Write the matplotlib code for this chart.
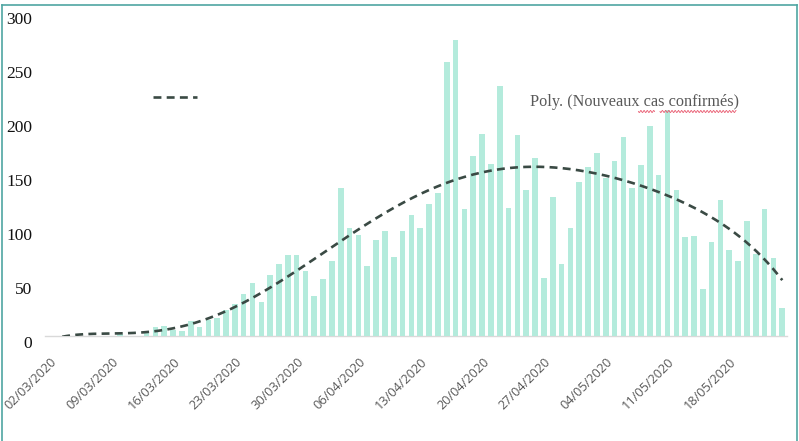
import datetime as dt
import numpy as np
import matplotlib
matplotlib.use("Agg")
import matplotlib.pyplot as plt
from matplotlib.lines import Line2D
from matplotlib.transforms import ScaledTranslation

# Daily new confirmed cases, starting 02/03/2020
start_date = dt.date(2020, 3, 2)
new_cases = [
    0, 0, 0, 0, 0, 0, 0, 0, 2, 0, 0,
    5, 8, 9, 6, 5, 14, 8, 15, 17, 24, 30, 39, 49, 32, 57, 67, 75, 75, 60,
    37, 53, 70, 137, 100, 94, 65, 89, 97, 73, 97, 112, 100, 122, 133, 254,
    275, 118, 167, 187, 160, 232, 119, 186, 135, 165, 54, 129, 67, 100, 143,
    157, 170, 147, 162, 185, 137, 159, 195, 149, 210, 135, 92, 93, 44, 87,
    126, 80, 70, 107, 76, 118, 72, 26,
]
dates = [start_date + dt.timedelta(days=k) for k in range(len(new_cases))]
date_labels = [d.strftime("%d/%m/%Y") for d in dates]
y_ticks = [0, 50, 100, 150, 200, 250, 300]
trend_label = "Poly. (Nouveaux cas confirmés)"
trend_degree = 6

W, H, DPI = 799, 441, 100
fig = plt.figure(figsize=(W / DPI, H / DPI), dpi=DPI)
fig.patch.set_facecolor("white")

# plot area in pixels (left, right, bottom-from-top, top-from-top)
L, R, B, T = 45, 786.7, 336, 12.6
ax = fig.add_axes([L / W, 1 - B / H, (R - L) / W, (B - T) / H])

x = np.arange(len(new_cases))
vals = np.array(new_cases, dtype=float)

ax.bar(x, vals, width=0.64, color="#b4ebdc", zorder=2)

# polynomial trend line (x counted from 1, as in a spreadsheet)
xf = x + 1.0
coef = np.polyfit(xf, vals, trend_degree)
xs = np.linspace(xf[0], xf[-1], 400)
ax.plot(xs - 1.0, np.polyval(coef, xs), color="#3a4a44", lw=1.9,
        linestyle=(0, (3.0, 2.0)), zorder=3, dash_capstyle="butt")

ax.set_xlim(-0.5, len(new_cases) - 0.5)
ax.set_ylim(0, 300)

for s in ["top", "right", "left"]:
    ax.spines[s].set_visible(False)
ax.spines["bottom"].set_color("#d9d9d9")
ax.spines["bottom"].set_linewidth(1.0)
ax.spines["bottom"].set_zorder(1)

ax.set_yticks(y_ticks)
ax.set_yticklabels([str(v) for v in y_ticks], family="Liberation Serif",
                   fontsize=12.5, color="#111111")
ax.tick_params(axis="y", length=0, pad=9)

tick_pos = x[::7]
ax.set_xticks(tick_pos)
ax.set_xticklabels([date_labels[k] for k in tick_pos], rotation=45,
                   ha="right", va="center", rotation_mode="anchor",
                   family="Open Sans", fontsize=9.2, color="#595959")
ax.tick_params(axis="x", length=0, pad=17)

y_shift = ScaledTranslation(0, -5.7 / DPI, fig.dpi_scale_trans)
for lab in ax.get_yticklabels():
    lab.set_transform(lab.get_transform() + y_shift)
x_shift = ScaledTranslation(5.0 / DPI, 0, fig.dpi_scale_trans)
for lab in ax.get_xticklabels():
    lab.set_transform(lab.get_transform() + x_shift)

# legend: dashed sample on the left, label on the right
fig.add_artist(Line2D([153 / W, 197 / W], [1 - 97 / H, 1 - 97 / H],
                      transform=fig.transFigure, color="#3a4a44", lw=1.9,
                      linestyle=(0, (3.0, 2.0)), dash_capstyle="butt"))
fig.text(530 / W, 1 - 102 / H, trend_label, family="Liberation Serif",
         fontsize=11.7, color="#595959", ha="left", va="center")

# spell-check style wavy underline under "cas confirmés"
for x0, x1 in [(638.5, 654.5), (660, 736)]:
    px = np.linspace(x0, x1, int((x1 - x0) * 3))
    py = 111.5 + 1.0 * np.sin((px - x0) / 3.2 * 2 * np.pi)
    fig.add_artist(Line2D(px / W, 1 - py / H, transform=fig.transFigure,
                          color="#e8556b", lw=0.6))

# thin teal frame around the chart
frame_c = "#4fa6a2"
fig.add_artist(Line2D([2 / W, 2 / W], [0, 1 - 5 / H], transform=fig.transFigure,
                      color=frame_c, lw=1.2))
fig.add_artist(Line2D([2 / W, 797 / W], [1 - 5 / H, 1 - 5 / H],
                      transform=fig.transFigure, color=frame_c, lw=1.2))
fig.add_artist(Line2D([797 / W, 797 / W], [0, 1 - 5 / H], transform=fig.transFigure,
                      color=frame_c, lw=1.2))

fig.savefig("out.png", dpi=DPI, facecolor="white")
